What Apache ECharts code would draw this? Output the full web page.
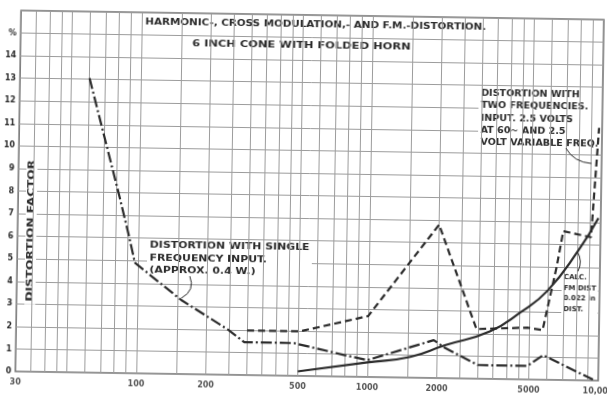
<!DOCTYPE html>
<html>
<head>
<meta charset="utf-8">
<script src="https://cdn.jsdelivr.net/npm/echarts@6/dist/echarts.min.js"></script>
<style>
html, body { margin: 0; background: #fff; overflow: hidden; }
/* the scanned sheet sits slightly skewed, so turn the whole chart a touch */
#chart { width: 610px; height: 399px; transform: rotate(0.9deg); }
</style>
</head>
<body>
<div id="chart"></div>
<script>
// frequency (Hz) / distortion (%)
const singleFreq = [[60,13.05],[82,7.9],[91,6.1],[97,4.9],[155,3.28],[249,1.99],[292,1.46],[480,1.45],[790,0.96],[1000,0.75],[1930,1.68],[2130,1.38],[3000,0.61],[4920,0.6],[5750,1.09],[9490,0.04]];
const twoFreq = [[300,1.98],[510,1.98],[1000,2.7],[2000,6.8],[2950,2.2],[3800,2.25],[4900,2.3],[5700,2.2],[6490,5.0],[6900,6.6],[9100,6.35],[9700,11.2]];
const fmCalc = [[500,0.2],[1000,0.65],[1530,0.92],[2160,1.46],[3370,2.1],[4550,2.96],[5950,3.95],[8030,5.74],[9770,7.2]];

const xTicks = [30,100,200,500,1000,2000,5000,10000];
const gridX = [35,40,45,50,60,70,80,90,100,150,200,250,300,350,400,450,500,600,700,800,900,1000,1500,2000,2500,3000,3500,4000,4500,5000,6000,7000,8000,9000];

const ink = '#2b2b2b';
const gridCol = '#9c9c9c';
const font = '"DejaVu Sans"';

const myChart = echarts.init(document.getElementById('chart'));

// hand lettering on the sheet is widely spaced, so text is stretched sideways
const note = (text, x, y, size, sx, extra) => Object.assign({
    type: 'text', z: 5, x: x, y: y, scaleX: sx,
    style: Object.assign({
        text: text, x: 0, y: 0, fill: ink, font: 'bold ' + size + 'px ' + font,
        backgroundColor: '#fff', padding: [1, 2]
    }, extra || {})
}, {});

const option = {
    animation: false,
    backgroundColor: '#fff',
    grid: {
        left: 16, right: 9, top: 15, bottom: 23,
        show: true, borderColor: '#6f6f6f', borderWidth: 1.5
    },
    xAxis: {
        type: 'log', logBase: 10, min: 30, max: 10000,
        axisLabel: { show: false },
        axisTick: { show: false },
        axisLine: { show: false },
        splitLine: { show: false }
    },
    yAxis: {
        type: 'value', min: 0, max: 16, interval: 1,
        axisLabel: {
            color: ink, fontSize: 8, fontWeight: 'bold', fontFamily: font, margin: 4,
            formatter: v => v === 15 ? '%' : (v === 16 ? '' : String(v))
        },
        axisTick: { show: false },
        axisLine: { show: false },
        splitLine: { lineStyle: { color: gridCol, width: 1 } }
    },
    graphic: [
        note('HARMONIC-, CROSS MODULATION,- AND F.M.-DISTORTION.', 313, 25, 9, 1.15, { textAlign: 'center', textVerticalAlign: 'middle', padding: [2, 3] }),
        note('6 INCH CONE WITH FOLDED HORN', 299, 46, 9, 1.27, { textAlign: 'center', textVerticalAlign: 'middle', padding: [2, 3] }),
        Object.assign(note('DISTORTION FACTOR', 31.5, 235, 8.5, 1.43, { textAlign: 'center', textVerticalAlign: 'middle' }), { rotation: Math.PI / 2 }),
        note('DISTORTION WITH SINGLE\nFREQUENCY INPUT.\n(APPROX. 0.4 W.)', 148, 241, 8.5, 1.28, { lineHeight: 12.5 }),
        note('DISTORTION WITH\nTWO FREQUENCIES.\nINPUT. 2.5 VOLTS\nAT 60~ AND 2.5\nVOLT VARIABLE FREQ.', 477, 84, 8, 1.2, { lineHeight: 12.2 }),
        note('CALC.\nFM DIST\n0.022 in\nDIST.', 563, 267, 7, 1, { lineHeight: 10.5 }),
        { type: 'bezierCurve', z: 6, shape: { x1: 191, y1: 278, cpx1: 197, cpy1: 292, x2: 183, y2: 300 }, style: { stroke: ink, lineWidth: 1, fill: null } },
        { type: 'bezierCurve', z: 6, shape: { x1: 565, y1: 144, cpx1: 573, cpy1: 158, x2: 591, y2: 159 }, style: { stroke: ink, lineWidth: 1, fill: null } },
        { type: 'bezierCurve', z: 6, shape: { x1: 579, y1: 267, cpx1: 584, cpy1: 257, x2: 578, y2: 247 }, style: { stroke: ink, lineWidth: 1, fill: null } }
    ],
    series: [
        {
            name: 'grid', type: 'line', data: [], z: 1, silent: true,
            markLine: {
                silent: true, symbol: ['none', 'none'], label: { show: false },
                lineStyle: { color: gridCol, width: 1, type: 'solid' },
                data: gridX.map(v => ({ xAxis: v }))
            }
        },
        {
            name: 'ticks', type: 'scatter', z: 3, silent: true,
            symbolSize: 1, itemStyle: { color: 'rgba(0,0,0,0)' },
            data: xTicks.map(v => [v, 0]),
            label: {
                show: true, position: 'bottom', distance: 6,
                color: ink, fontSize: 8, fontWeight: 'bold', fontFamily: font,
                formatter: p => p.value[0] === 10000 ? '10,000' : String(p.value[0])
            }
        },
        {
            name: 'Single frequency', type: 'line', z: 10, data: singleFreq,
            showSymbol: false, lineStyle: { color: ink, width: 2.2, type: [11, 3, 2, 3] }
        },
        {
            name: 'Two frequencies', type: 'line', z: 10, data: twoFreq,
            showSymbol: false, lineStyle: { color: ink, width: 2.2, type: [7, 4] }
        },
        {
            name: 'Calc. FM', type: 'line', z: 10, data: fmCalc, smooth: true,
            showSymbol: false, lineStyle: { color: ink, width: 2.2 }
        }
    ]
};
myChart.setOption(option);
</script>
</body>
</html>
